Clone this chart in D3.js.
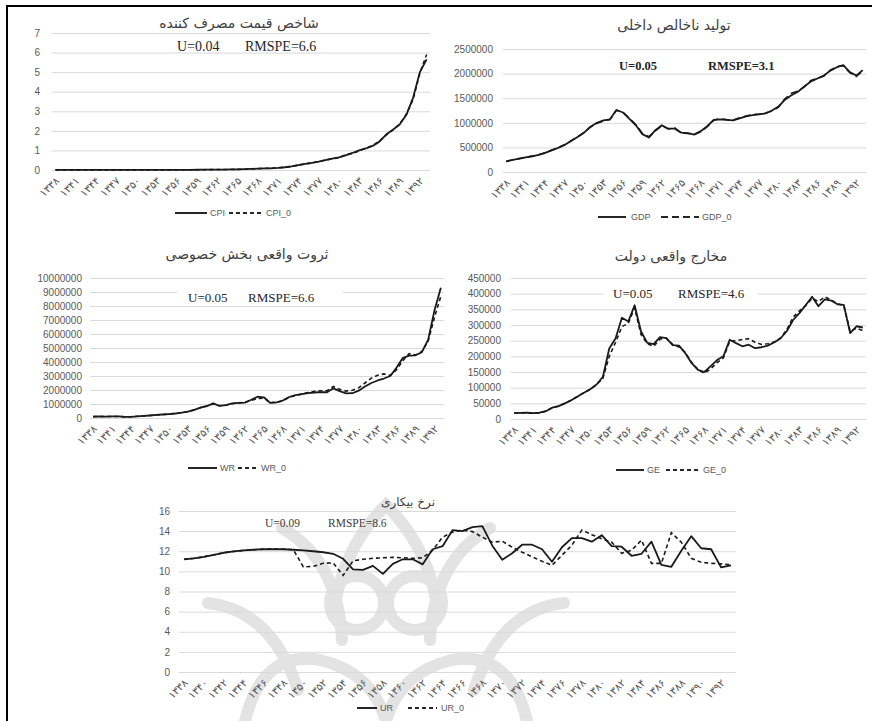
<!DOCTYPE html>
<html><head><meta charset="utf-8">
<script src="https://cdn.jsdelivr.net/npm/d3@7"></script>
<style>
body{margin:0;background:#fff;}
svg{display:block;}
</style></head><body>
<svg id="c" width="872" height="721"></svg>
<script>
// ---------- categories ----------
const years = [1338,1339,1340,1341,1342,1343,1344,1345,1346,1347,1348,1349,1350,1351,1352,1353,1354,1355,1356,1357,1358,1359,1360,1361,1362,1363,1364,1365,1366,1367,1368,1369,1370,1371,1372,1373,1374,1375,1376,1377,1378,1379,1380,1381,1382,1383,1384,1385,1386,1387,1388,1389,1390,1391,1392,1393];
const ticks3 = [1338,1341,1344,1347,1350,1353,1356,1359,1362,1365,1368,1371,1374,1377,1380,1383,1386,1389,1392];
const ticks2 = [1338,1340,1342,1344,1346,1348,1350,1352,1354,1356,1358,1360,1362,1364,1366,1368,1370,1372,1374,1376,1378,1380,1382,1384,1386,1388,1390,1392];

// ---------- series ----------
const CPI = [0.003,0.003,0.003,0.003,0.003,0.003,0.003,0.003,0.0035,0.0035,0.0035,0.0038,0.004,0.0043,0.0048,0.0055,0.0062,0.007,0.0085,0.0095,0.011,0.013,0.016,0.02,0.022,0.024,0.027,0.033,0.042,0.055,0.068,0.08,0.09,0.11,0.14,0.18,0.25,0.31,0.36,0.43,0.51,0.58,0.65,0.75,0.87,1.0,1.1,1.23,1.45,1.81,2.06,2.32,2.82,3.7,5.0,5.65];
const CPI_0 = [0.003,0.003,0.003,0.003,0.003,0.003,0.003,0.003,0.0035,0.0035,0.0035,0.0038,0.004,0.0043,0.0048,0.0055,0.0062,0.007,0.0085,0.0095,0.011,0.013,0.016,0.02,0.022,0.024,0.027,0.033,0.042,0.055,0.068,0.08,0.09,0.11,0.14,0.18,0.25,0.31,0.36,0.43,0.51,0.57,0.63,0.78,0.84,0.98,1.12,1.25,1.47,1.78,2.05,2.35,2.85,3.6,4.95,5.9];

const GDP = [217000,245000,270000,295000,320000,350000,390000,440000,490000,550000,630000,710000,800000,920000,1000000,1050000,1070000,1260000,1210000,1080000,950000,770000,700000,850000,950000,880000,880000,800000,790000,760000,830000,930000,1060000,1070000,1060000,1050000,1090000,1130000,1155000,1170000,1190000,1250000,1330000,1470000,1560000,1630000,1740000,1840000,1900000,1960000,2060000,2130000,2170000,2030000,1960000,2070000];
const GDP_0 = [215000,243000,272000,298000,322000,352000,392000,445000,495000,555000,635000,715000,805000,915000,990000,1035000,1065000,1255000,1215000,1090000,960000,785000,715000,835000,940000,875000,895000,790000,785000,765000,815000,920000,1050000,1085000,1065000,1055000,1100000,1140000,1170000,1175000,1200000,1240000,1320000,1490000,1600000,1645000,1730000,1860000,1900000,1950000,2070000,2140000,2160000,2020000,1940000,2060000];

const WR = [100000,120000,100000,110000,120000,80000,80000,120000,150000,180000,220000,250000,280000,320000,380000,460000,580000,750000,850000,1050000,860000,920000,1050000,1080000,1100000,1300000,1520000,1480000,1080000,1120000,1250000,1500000,1630000,1700000,1780000,1820000,1850000,1840000,2120000,1920000,1760000,1770000,1950000,2250000,2500000,2680000,2820000,3000000,3600000,4300000,4450000,4480000,4700000,5600000,7700000,9300000];
const WR_0 = [100000,110000,100000,110000,110000,80000,90000,120000,150000,180000,210000,250000,280000,330000,380000,470000,580000,740000,860000,1000000,880000,920000,1020000,1080000,1120000,1250000,1400000,1420000,1100000,1120000,1220000,1480000,1600000,1720000,1820000,1900000,1950000,1950000,2250000,2050000,1920000,1980000,2150000,2500000,2850000,3050000,3150000,3050000,3450000,4100000,4600000,4500000,4750000,5500000,7200000,8700000];

const GE = [19000,19500,20000,19000,20000,25000,36000,41000,50000,60000,72000,84000,95000,110000,135000,225000,258000,323000,311000,363000,280000,243000,239000,261000,258000,236000,234000,210000,178000,157000,150000,169000,188000,200000,253000,242000,232000,237000,226000,229000,234000,244000,257000,280000,316000,338000,364000,390000,360000,382000,378000,366000,364000,274000,296000,292000];
const GE_0 = [19000,19500,20000,19000,20000,25000,36000,41000,50000,60000,72000,84000,95000,110000,130000,200000,245000,295000,305000,355000,270000,240000,232000,255000,258000,238000,230000,212000,180000,158000,146000,160000,180000,195000,248000,250000,254000,256000,245000,238000,240000,246000,258000,285000,325000,345000,362000,385000,375000,390000,380000,368000,362000,280000,290000,282000];

const UR = [11.2,11.3,11.45,11.65,11.85,11.98,12.08,12.15,12.2,12.22,12.2,12.15,12.08,12.0,11.9,11.75,11.25,10.2,10.15,10.55,9.75,10.75,11.2,11.2,10.7,12.2,12.5,14.1,14.0,14.4,14.5,12.55,11.15,11.8,12.65,12.65,12.2,10.95,12.4,13.3,13.3,12.95,13.6,12.5,12.45,11.55,11.75,12.95,10.65,10.45,12.05,13.5,12.3,12.2,10.4,10.6];
const UR_0 = [11.2,11.3,11.45,11.65,11.85,11.98,12.08,12.15,12.2,12.22,12.2,12.15,10.45,10.5,10.8,10.85,9.6,11.05,11.2,11.3,11.35,11.4,11.35,11.3,11.35,12.1,13.4,13.9,14.1,13.95,13.4,12.9,13.0,12.4,11.9,11.45,11.0,10.6,11.6,12.6,14.1,13.65,13.25,12.9,11.8,12.1,13.1,10.8,10.8,13.85,12.9,11.3,10.9,10.8,10.75,10.65];

// ---------- y tick values ----------
const yTicksCPI = [0,1,2,3,4,5,6,7];
const yTicksGDP = [0,500000,1000000,1500000,2000000,2500000];
const yTicksWR = [0,1000000,2000000,3000000,4000000,5000000,6000000,7000000,8000000,9000000,10000000];
const yTicksGE = [0,50000,100000,150000,200000,250000,300000,350000,400000,450000];
const yTicksUR = [0,2,4,6,8,10,12,14,16];

const faDigits = "۰۱۲۳۴۵۶۷۸۹";
const toFa = n => String(n).replace(/\d/g, d => faDigits[+d]);

const svg = d3.select("#c");
svg.append("rect").attr("width",872).attr("height",721).attr("fill","#fff");

// ---------- faint watermark (background decoration) ----------
const wm = svg.append("g").attr("fill","none").attr("stroke","#e3e3e3")
  .attr("stroke-width",12).attr("stroke-linecap","round");
wm.append("path").attr("d","M335,605 Q345,545 386,505 Q427,545 437,605");
wm.append("circle").attr("cx",357).attr("cy",603).attr("r",27);
wm.append("circle").attr("cx",415).attr("cy",603).attr("r",27);
wm.append("path").attr("d","M282,528 Q338,560 342,640");
wm.append("path").attr("d","M490,528 Q434,560 430,640");
wm.append("path").attr("d","M208,603 Q272,610 298,690");
wm.append("path").attr("d","M564,603 Q500,610 474,690");
wm.append("path").attr("d","M245,721 Q262,650 320,660 Q372,672 386,721");
wm.append("path").attr("d","M527,721 Q510,650 452,660 Q400,672 386,721");

// ---------- border ----------
svg.append("line").attr("x1",7).attr("x2",7).attr("y1",5).attr("y2",721).attr("stroke","#000").attr("stroke-width",2);
svg.append("line").attr("x1",6).attr("x2",872).attr("y1",6).attr("y2",6).attr("stroke","#000").attr("stroke-width",2);

const panels = [
  {title:"شاخص قیمت مصرف کننده", a:CPI, b:CPI_0, names:["CPI","CPI_0"], yTicks:yTicksCPI, xTicks:ticks3,
   x0:52, x1:430, yTop:33, yBot:170, pad:12, titleX:239, titleY:28, titleSize:14,
   ann:{u:"U=0.04", r:"RMSPE=6.6", ux:177, rx:245, y:51, size:14, weight:400, fill:"#262626"},
   dash:"4,3", leg:{y:213, l1:[175,207], t1:210, l2:[229,262], t2:266}},
  {title:"تولید ناخالص داخلی", a:GDP, b:GDP_0, names:["GDP","GDP_0"], yTicks:yTicksGDP, xTicks:ticks3,
   x0:503, x1:866, yTop:49, yBot:172, pad:10, titleX:674, titleY:30, titleSize:14,
   ann:{u:"U=0.05", r:"RMSPE=3.1", ux:619, rx:708, y:70, size:12.5, weight:700, fill:"#262626"},
   dash:"7,4", leg:{y:217, l1:[598,626], t1:631, l2:[661,699], t2:702}},
  {title:"ثروت واقعی بخش خصوصی", a:WR, b:WR_0, names:["WR","WR_0"], yTicks:yTicksWR, xTicks:ticks3,
   x0:90, x1:444, yTop:278, yBot:418, pad:8, titleX:247, titleY:259, titleSize:14,
   ann:{u:"U=0.05", r:"RMSPE=6.6", ux:188, rx:248, y:302, size:13, weight:400, fill:"#262626", box:[177,343]},
   dash:"4,3", leg:{y:468, l1:[188,217], t1:220, l2:[238,258], t2:261}},
  {title:"مخارج واقعی دولت", a:GE, b:GE_0, names:["GE","GE_0"], yTicks:yTicksGE, xTicks:ticks3,
   x0:511, x1:866, yTop:278, yBot:419, pad:10, titleX:671, titleY:261, titleSize:14,
   ann:{u:"U=0.05", r:"RMSPE=4.6", ux:613, rx:678, y:298, size:13, weight:400, fill:"#262626", box:[604,758]},
   dash:"4,3", leg:{y:470, l1:[616,644], t1:647, l2:[666,699], t2:703}},
  {title:"نرخ بیکاری", a:UR, b:UR_0, names:["UR","UR_0"], yTicks:yTicksUR, xTicks:ticks2,
   x0:179, x1:736, yTop:511, yBot:672, pad:9, titleX:408, titleY:506, titleSize:12,
   ann:{u:"U=0.09", r:"RMSPE=8.6", ux:265, rx:328, y:527, size:11.5, weight:400, fill:"#404040"},
   dash:"4,3", leg:{y:708, l1:[357,377], t1:380, l2:[408,437], t2:441}}
];

function drawPanel(p){
  const g = svg.append("g");
  const x = d3.scaleBand().domain(years).range([p.x0, p.x1]);
  const cx = yr => x(yr) + x.bandwidth()/2;
  const y = d3.scaleLinear().domain([0, p.yTicks[p.yTicks.length-1]]).range([p.yBot, p.yTop]);

  const gy = g.append("g").attr("transform", `translate(${p.x0},0)`)
    .call(d3.axisLeft(y).tickValues(p.yTicks).tickSize(-(p.x1 - p.x0)).tickPadding(p.pad).tickFormat(d3.format("d")));
  gy.select(".domain").remove();
  gy.selectAll("line").attr("stroke","#d9d9d9").attr("stroke-width",1);
  gy.selectAll("text").attr("fill","#595959").style("font-family","'Liberation Sans', Arial, sans-serif").style("font-size","10px");

  const gx = g.append("g").attr("transform", `translate(0,${p.yBot})`)
    .call(d3.axisBottom(x).tickValues(p.xTicks).tickSize(0).tickFormat(toFa));
  gx.select(".domain").remove();
  gx.selectAll("text").attr("x",0).attr("y",0).attr("dy","0.35em")
    .attr("transform","translate(2,9) rotate(-45)").attr("text-anchor","end")
    .attr("fill","#595959").style("font-family","'DejaVu Sans', sans-serif").style("font-size","10.5px");

  // annotation
  if (p.ann.box) {
    g.append("rect").attr("x", p.ann.box[0]).attr("y", p.ann.y - 13).attr("width", p.ann.box[1]-p.ann.box[0]).attr("height", 17).attr("fill","#fff");
  }
  [[p.ann.u, p.ann.ux],[p.ann.r, p.ann.rx]].forEach(([t,xx]) => {
    g.append("text").attr("x", xx).attr("y", p.ann.y).text(t)
      .attr("fill", p.ann.fill).style("font-family","'Liberation Serif', 'Times New Roman', serif")
      .style("font-size", p.ann.size + "px").style("font-weight", p.ann.weight);
  });

  // title
  g.append("text").attr("x", p.titleX).attr("y", p.titleY).attr("text-anchor","middle")
    .attr("direction","rtl").text(p.title).attr("fill","#404040")
    .style("font-family","'DejaVu Sans', sans-serif").style("font-size", p.titleSize + "px");

  // lines
  const line = d3.line().x((d,i) => cx(years[i])).y(d => y(d));
  g.append("path").datum(p.a).attr("d", line).attr("fill","none").attr("stroke","#1a1a1a").attr("stroke-width",1.8).attr("stroke-linejoin","round");
  g.append("path").datum(p.b).attr("d", line).attr("fill","none").attr("stroke","#1a1a1a").attr("stroke-width",1.6).attr("stroke-dasharray", p.dash);

  // legend
  const L = p.leg;
  g.append("line").attr("x1", L.l1[0]).attr("x2", L.l1[1]).attr("y1", L.y).attr("y2", L.y).attr("stroke","#262626").attr("stroke-width",2);
  g.append("line").attr("x1", L.l2[0]).attr("x2", L.l2[1]).attr("y1", L.y).attr("y2", L.y).attr("stroke","#262626").attr("stroke-width",2).attr("stroke-dasharray", p.dash);
  [[p.names[0], L.t1],[p.names[1], L.t2]].forEach(([t,xx]) => {
    g.append("text").attr("x", xx).attr("y", L.y).attr("dy","0.35em").text(t).attr("fill","#595959")
      .style("font-family","'Liberation Sans', Arial, sans-serif").style("font-size","9px");
  });
}
panels.forEach(drawPanel);
</script>
</body></html>
